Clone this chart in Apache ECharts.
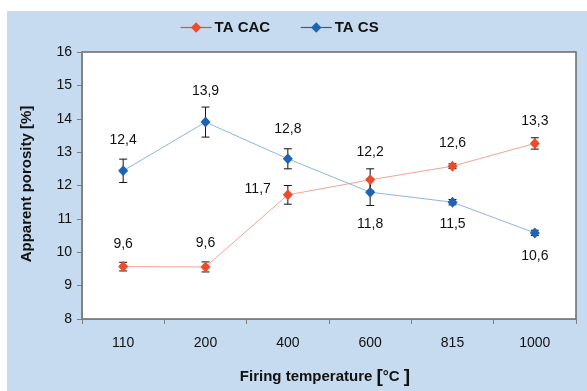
<!DOCTYPE html>
<html>
<head>
<meta charset="utf-8">
<script src="https://cdn.jsdelivr.net/npm/echarts@6/dist/echarts.min.js"></script>
<style>html,body{margin:0;padding:0;background:#fff}#c{width:587px;height:391px}</style>
</head>
<body>
<div id="c"></div>
<script>
// ---- data ----
const categories = ['110', '200', '400', '600', '815', '1000'];
const seriesNames = ['TA CAC', 'TA CS'];
const cacValues = [9.57, 9.56, 11.72, 12.17, 12.58, 13.26];
const csValues = [12.44, 13.9, 12.8, 11.8, 11.5, 10.58];
const cacErrors = [0.13, 0.15, 0.28, 0.33, 0.07, 0.17];
const csErrors = [0.35, 0.45, 0.3, 0.4, 0.08, 0.08];
const yTicks = { min: 8, max: 16, interval: 1 };

// ---- styles ----
const RED = '#EE4B2B', RED_LINE = '#F4A392';
const BLUE = '#1F63B2', BLUE_LINE = '#8FB4E3';
const FONT = "Arial, 'Liberation Sans', sans-serif";
const cacLabelCfg = [
  { position: 'top', distance: 10 },
  { position: 'top', distance: 11 },
  { position: 'left', distance: 12, offset: [0, -6] },
  { position: 'top', distance: 15 },
  { position: 'top', distance: 11 },
  { position: 'top', distance: 10 }
];
const csLabelCfg = [
  { position: 'top', distance: 18 },
  { position: 'top', distance: 18 },
  { position: 'top', distance: 17 },
  { position: 'bottom', distance: 19 },
  { position: 'bottom', distance: 9 },
  { position: 'bottom', distance: 11 }
];

function fmt(v) { return v.toFixed(1).replace('.', ','); }
function lineData(values, cfg) {
  return values.map((v, i) => ({ value: v, label: Object.assign({}, cfg[i]) }));
}
function errData(values, errs) {
  return values.map((v, i) => [i, v - errs[i], v + errs[i]]);
}
function renderErr(params, api) {
  const x = api.value(0);
  const top = api.coord([x, api.value(2)]);
  const bot = api.coord([x, api.value(1)]);
  const hw = 4;
  const st = { stroke: '#111', lineWidth: 1 };
  return {
    type: 'group',
    children: [
      { type: 'line', shape: { x1: top[0], y1: top[1], x2: bot[0], y2: bot[1] }, style: st },
      { type: 'line', shape: { x1: top[0] - hw, y1: top[1], x2: top[0] + hw, y2: top[1] }, style: st },
      { type: 'line', shape: { x1: bot[0] - hw, y1: bot[1], x2: bot[0] + hw, y2: bot[1] }, style: st }
    ]
  };
}

const chart = echarts.init(document.getElementById('c'), null, { renderer: 'canvas' });
chart.setOption({
  backgroundColor: '#ffffff',
  animation: false,
  textStyle: { fontFamily: FONT },
  graphic: [
    { type: 'rect', z: -10, shape: { x: 7, y: 11, width: 580, height: 380 }, style: { fill: '#C6DBEF' } },
    { type: 'text', z: 10, x: 27, y: 184, rotation: Math.PI / 2,
      style: { text: 'Apparent porosity [%]', font: 'bold 15px ' + FONT, fill: '#111', align: 'center', verticalAlign: 'middle' } },
    { type: 'text', z: 10, x: 325, y: 377,
      style: { text: '{a|Firing temperature }{b|[}{a|°C }{b|]}', align: 'center', verticalAlign: 'middle',
        rich: { a: { fontFamily: FONT, fontWeight: 'bold', fontSize: 15, fill: '#111', color: '#111' },
                b: { fontFamily: FONT, fontWeight: 'bold', fontSize: 19, fill: '#111', color: '#111' } } } }
  ],
  legend: {
    left: 175, top: 15,
    itemWidth: 31, itemHeight: 13, itemGap: 30,
    textStyle: { fontFamily: FONT, fontWeight: 'bold', fontSize: 15, color: '#111', padding: [0, 0, 0, -2] },
    data: [
      { name: seriesNames[0], lineStyle: { color: RED, width: 1.2 } },
      { name: seriesNames[1], lineStyle: { color: BLUE, width: 1.2 } }
    ]
  },
  grid: {
    left: 82, top: 52, right: 11, bottom: 72,
    show: true, backgroundColor: '#ffffff', borderColor: '#6a6a6a', borderWidth: 1.5
  },
  xAxis: {
    type: 'category', data: categories, boundaryGap: true,
    axisLine: { lineStyle: { color: '#7f7f7f', width: 1 } },
    axisTick: { show: true, length: 5, inside: false, lineStyle: { color: '#7f7f7f' } },
    axisLabel: { color: '#111', fontSize: 14, fontFamily: FONT, margin: 17 },
    splitLine: { show: false }
  },
  yAxis: {
    type: 'value', min: yTicks.min, max: yTicks.max, interval: yTicks.interval,
    axisLine: { show: true, lineStyle: { color: '#7f7f7f', width: 1 } },
    axisTick: { show: true, length: 5, inside: false, lineStyle: { color: '#7f7f7f' } },
    axisLabel: { color: '#111', fontSize: 14, fontFamily: FONT, margin: 10 },
    splitLine: { show: false }
  },
  series: [
    { type: 'custom', name: 'errCAC', z: 3, renderItem: renderErr, encode: { x: 0, y: [1, 2] },
      data: errData(cacValues, cacErrors), silent: true },
    { type: 'custom', name: 'errCS', z: 3, renderItem: renderErr, encode: { x: 0, y: [1, 2] },
      data: errData(csValues, csErrors), silent: true },
    { type: 'line', name: seriesNames[0], z: 4, data: lineData(cacValues, cacLabelCfg),
      symbol: 'diamond', symbolSize: [10, 11], showAllSymbol: true,
      itemStyle: { color: RED }, lineStyle: { color: RED_LINE, width: 1 },
      label: { show: true, color: '#111', fontSize: 14, fontFamily: FONT, formatter: p => fmt(p.value) } },
    { type: 'line', name: seriesNames[1], z: 4, data: lineData(csValues, csLabelCfg),
      symbol: 'diamond', symbolSize: [10, 11], showAllSymbol: true,
      itemStyle: { color: BLUE }, lineStyle: { color: BLUE_LINE, width: 1 },
      label: { show: true, color: '#111', fontSize: 14, fontFamily: FONT, formatter: p => fmt(p.value) } }
  ]
});
</script>
</body>
</html>
